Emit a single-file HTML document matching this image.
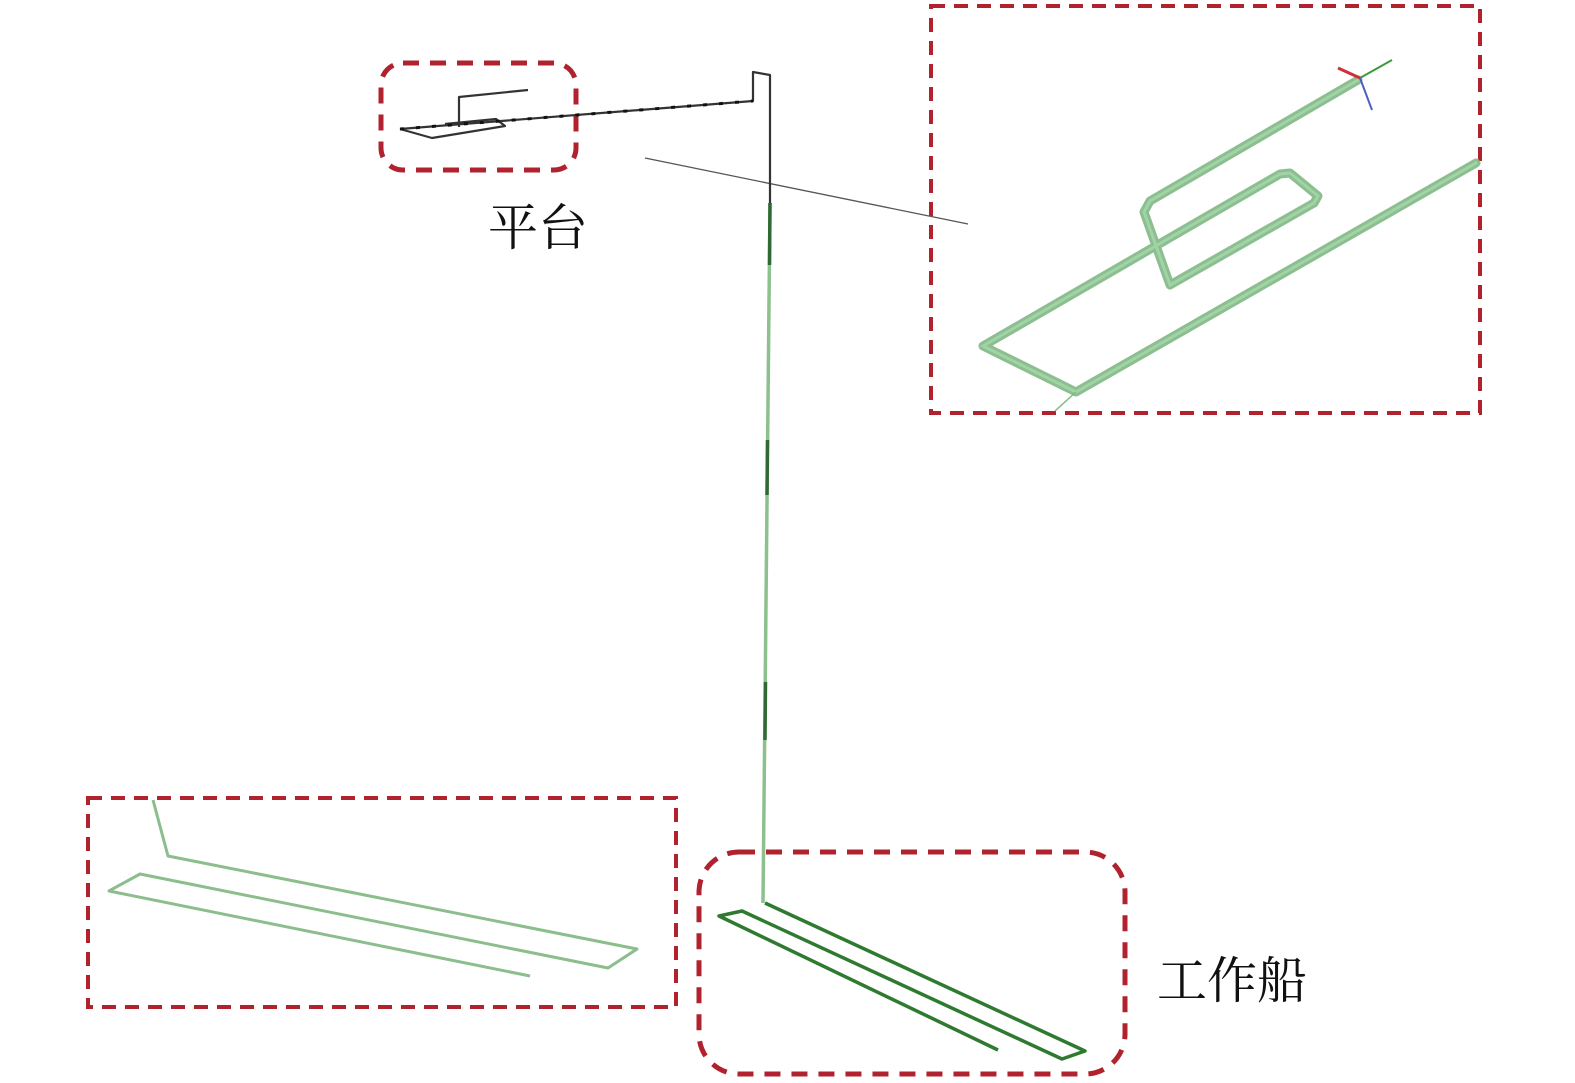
<!DOCTYPE html>
<html><head><meta charset="utf-8"><style>
html,body{margin:0;padding:0;background:#fff;}
svg{display:block}
text{font-family:"Liberation Serif","Noto Serif CJK SC",serif;}
</style></head><body>
<svg width="1575" height="1083" viewBox="0 0 1575 1083" xmlns="http://www.w3.org/2000/svg">
<g fill="none" stroke="#b0232e" stroke-width="4" stroke-dasharray="14 9">
<rect x="931" y="6" width="549" height="407"/>
<rect x="88" y="798" width="588" height="209"/>
</g>
<g fill="none" stroke="#b0232e" stroke-width="5" stroke-dasharray="16 11">
<rect x="381" y="63" width="195" height="107" rx="22"/>
<rect x="699" y="852" width="426" height="222" rx="40"/>
</g>
<line x1="645" y1="158" x2="968" y2="224" stroke="#555" stroke-width="1.3"/>
<g fill="none" stroke="#333" stroke-width="2.2" stroke-linejoin="round">
<polyline points="400,129 753,101 753,72 770,75 770,205"/>
<polyline points="459,127 459,97 528,90"/>
<polyline points="400,129 432,138 505,126 496,119 445,124"/>
</g>
<g stroke="#111" stroke-width="3" stroke-dasharray="4 12" fill="none">
<polyline points="400,129 753,101"/>
</g>
<line x1="770" y1="203" x2="763" y2="903" stroke="#8cc08c" stroke-width="3.5"/>
<g stroke="#2f6a34" stroke-width="3.5">
<line x1="770" y1="203" x2="769.5" y2="265"/>
<line x1="767.5" y1="440" x2="767" y2="495"/>
<line x1="765.5" y1="682" x2="765" y2="740"/>
</g>
<g fill="none" stroke="#2f7a30" stroke-width="3.5" stroke-linejoin="round">
<polyline points="765,903 1085,1051 1062,1059 742,911 719,916 998,1050"/>
</g>
<g fill="none" stroke="#8cbd8c" stroke-width="3" stroke-linejoin="round">
<polyline points="153,800 168,856 637,949 608,968 140,874 109,891 530,976"/>
</g>
<g fill="none" stroke="#7fb884" stroke-width="9" stroke-linejoin="round" stroke-linecap="round" opacity="0.9">
<polyline points="1358,80 1150,201 1144,212 1170,285 1314,203 1318,196 1290,173 1280,174 983,346 1076,392 1476,163"/>
</g>
<g fill="none" stroke="#a8d8ac" stroke-width="3" stroke-linecap="round" opacity="0.8">
<polyline points="1358,80 1150,201 1144,212 1170,285 1314,203 1318,196 1290,173 1280,174 983,346 1076,392 1476,163"/>
</g>
<line x1="1076" y1="392" x2="1055" y2="411" stroke="#7fb884" stroke-width="1.5"/>
<line x1="1360" y1="78" x2="1392" y2="60" stroke="#3a9a3a" stroke-width="2"/>
<line x1="1360" y1="78" x2="1338" y2="68" stroke="#d0303a" stroke-width="3"/>
<line x1="1360" y1="78" x2="1372" y2="110" stroke="#4a60c0" stroke-width="2"/>
<text x="488" y="245" font-size="50" fill="#111">平台</text>
<text x="1157" y="998" font-size="50" fill="#111">工作船</text>
</svg>
</body></html>
